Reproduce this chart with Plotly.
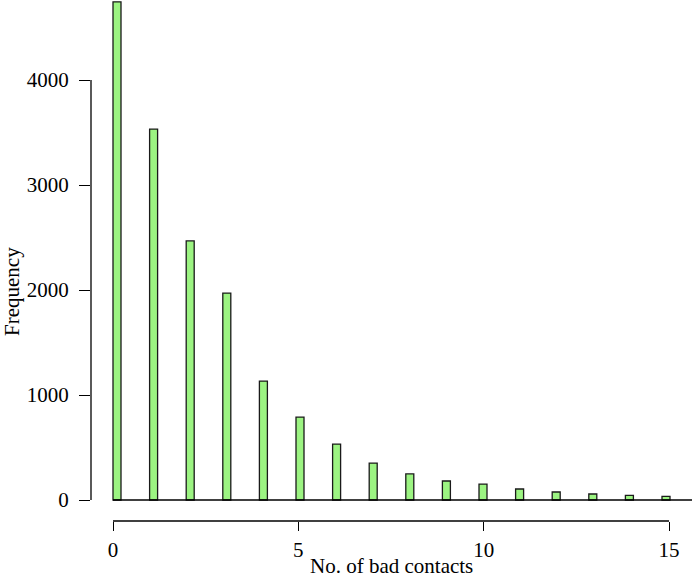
import plotly.graph_objects as go

# Data
contacts = list(range(16))
frequency = [4745, 3533, 2467, 1971, 1133, 790, 533, 352, 248, 181, 152, 105, 76, 57, 44, 35]
x_tick_labels = ["0", "5", "10", "15"]
x_tick_numbers = [0, 5, 10, 15]
y_tick_values = [0, 1000, 2000, 3000, 4000]

FONT = "Liberation Serif, Times New Roman, serif"
FS = 21
BAR_COLOR = "#9cf482"

# Bars are laid out like an R barplot: axis units map slightly differently from bar index
bar_step = 36.6          # px between bars
tick_unit = 37.07        # px per axis unit
offset_px = -4.0         # tick 0 relative to first bar centre
tickvals = [(offset_px + k * tick_unit) / bar_step for k in x_tick_numbers]
bar_width = 8 / bar_step

fig = go.Figure()
fig.add_trace(go.Bar(
    x=contacts, y=frequency, width=bar_width,
    marker=dict(color=BAR_COLOR, line=dict(color="#1a1a1a", width=1.3)),
    showlegend=False, hoverinfo="skip",
))

x_left = -26 / bar_step
x_right = (692 - 117) / bar_step

fig.update_layout(
    width=692, height=580,
    margin=dict(l=91, r=0, t=0, b=59),
    paper_bgcolor="white", plot_bgcolor="white",
    font=dict(family=FONT, size=FS, color="black"),
    xaxis=dict(
        range=[x_left, x_right], showgrid=False, zeroline=False, showline=False,
        tickmode="array", tickvals=tickvals, ticktext=x_tick_labels,
        ticks="outside", ticklen=9, tickwidth=1.3, tickcolor="black",
        ticklabelstandoff=1,
        tickfont=dict(family=FONT, size=FS, color="black"),
    ),
    yaxis=dict(
        range=[-200, 500 / 0.105], showgrid=False, zeroline=False, showline=False,
        tickmode="array", tickvals=y_tick_values,
        ticks="outside", ticklen=11, tickwidth=1.3, tickcolor="black",
        ticklabelstandoff=6,
        tickfont=dict(family=FONT, size=FS, color="black"),
    ),
    shapes=[
        # y axis line from 0 to 4000
        dict(type="line", xref="paper", yref="y", x0=0, x1=0, y0=0, y1=4000,
             line=dict(color="black", width=1.3)),
        # x axis line from tick 0 to tick 15
        dict(type="line", xref="x", yref="paper", x0=tickvals[0], x1=tickvals[-1], y0=0, y1=0,
             line=dict(color="black", width=1.3)),
        # baseline
        dict(type="line", xref="x", yref="y", x0=tickvals[0], x1=x_right, y0=0, y1=0,
             line=dict(color="black", width=1.3)),
    ],
    annotations=[
        dict(text="No. of bad contacts", xref="paper", yref="paper",
             x=0.5, y=-(566 - 521) / 521, xanchor="center", yanchor="middle",
             showarrow=False, font=dict(family=FONT, size=FS, color="black")),
        dict(text="Frequency", xref="paper", yref="paper",
             x=-(91 - 12) / 601, y=(521 - 292) / 521, xanchor="center", yanchor="middle",
             textangle=-90, showarrow=False, font=dict(family=FONT, size=FS, color="black")),
    ],
)

fig.write_html("out.html", config={"displayModeBar": False},
               post_script="document.body.style.margin='0';document.body.style.overflow='hidden';")
